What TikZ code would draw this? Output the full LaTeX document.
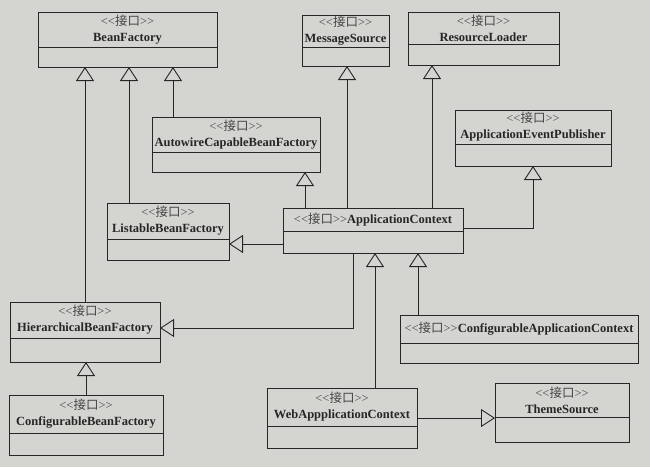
\documentclass[tikz,border=0pt]{standalone}
\usepackage{fontspec}
\setmainfont{Liberation Serif}
\newfontfamily\cjk{Noto Sans CJK SC}
\usetikzlibrary{arrows.meta,calc}

\definecolor{paper}{RGB}{212,212,209}
\definecolor{ink}{RGB}{38,38,38}
\definecolor{stereo}{RGB}{70,70,70}

% stereotype and class name (kerns keep << and >> from becoming guillemets)
\newcommand\stype{{\color{stereo}\fontsize{12.5}{16}\selectfont <\kern0pt<{\cjk 接口}>\kern0pt>}}
\newcommand\cname[1]{{\color{ink}\bfseries #1}}

\tikzset{
  classbox/.style={draw=ink, line width=0.9pt, rectangle, inner sep=0pt, outer sep=0pt},
  classlabel/.style={align=center, inner sep=0pt, font=\fontsize{12.5}{16}\selectfont},
  inh/.style={draw=ink, line width=0.9pt, -{Triangle[open, length=14pt, width=18pt]}},
}

% #1 name, #2 x1, #3 y1, #4 x2, #5 y2, #6 y of divider, #7 label
\newcommand\umlclass[7]{%
  \node[classbox, anchor=north west, minimum width={#4-#2}, minimum height={#5-#3}] (#1) at (#2,#3) {};
  \draw[draw=ink, line width=0.9pt] ($(#1.north west)+(0,#6-#3)$) -- ($(#1.north east)+(0,#6-#3)$);
  \node[classlabel] (#1-label) at ($(#1.north west)!0.5!(#1.north east)+(0,{(#6-#3)/2})$) {#7};
}

\begin{document}
\begin{tikzpicture}[x=1pt, y=-1pt]
  \fill[paper] (0,0) rectangle (650,467);
  \useasboundingbox (0,0) rectangle (650,467);

  % interfaces
  \umlclass{bf}{38}{12}{217}{67}{47}{\stype\\\cname{BeanFactory}}
  \umlclass{ms}{302}{15}{389}{66}{47}{\stype\\\cname{MessageSource}}
  \umlclass{rl}{408}{12}{559}{65}{44}{\stype\\\cname{ResourceLoader}}
  \umlclass{acbf}{152}{117}{320}{172}{152}{\stype\\\cname{AutowireCapableBeanFactory}}
  \umlclass{aep}{455}{110}{611}{166}{144}{\stype\\\cname{ApplicationEventPublisher}}
  \umlclass{lbf}{107}{203}{229}{260}{239}{\stype\\\cname{ListableBeanFactory}}
  \umlclass{ac}{283}{208}{463}{253}{231}{\stype\cname{ApplicationContext}}
  \umlclass{hbf}{10}{302}{160}{362}{338}{\stype\\\cname{HierarchicalBeanFactory}}
  \umlclass{cac}{400}{315}{638}{363}{343}{\stype\cname{ConfigurableApplicationContext}}
  \umlclass{cbf}{9}{395}{163}{455}{433}{\stype\\\cname{ConfigurableBeanFactory}}
  \umlclass{web}{267}{388}{417}{448}{426}{\stype\\\cname{WebAppplicationContext}}
  \umlclass{ts}{495}{383}{629}{442}{417}{\stype\\\cname{ThemeSource}}

  % attachment points on the box edges
  \coordinate (lbfT) at ($(lbf.north west)+(22,0)$);
  \coordinate (acbfT) at ($(acbf.north west)+(21,0)$);
  \coordinate (acT1) at ($(ac.north west)+(22,0)$);
  \coordinate (acT2) at ($(ac.north west)+(64,0)$);
  \coordinate (acT3) at ($(ac.north west)+(149,0)$);
  \coordinate (acR) at ($(ac.north east)+(0,20)$);
  \coordinate (acL) at ($(ac.north west)+(0,36)$);
  \coordinate (acB) at ($(ac.south west)+(70,0)$);
  \coordinate (hbfR) at ($(hbf.north east)+(0,26)$);
  \coordinate (webT) at ($(web.north west)+(108,0)$);
  \coordinate (cacT) at ($(cac.north west)+(18,0)$);

  % generalisations
  \draw[inh] (hbf.north) -- (hbf.north |- bf.south);
  \draw[inh] (lbfT) -- (lbfT |- bf.south);
  \draw[inh] (acbfT) -- (acbfT |- bf.south);
  \draw[inh] (acT1) -- (acT1 |- acbf.south);
  \draw[inh] (acT2) -- (acT2 |- ms.south);
  \draw[inh] (acT3) -- (acT3 |- rl.south);
  \draw[inh] (acR) -| (aep.south);
  \draw[inh] (acL) -- (acL -| lbf.east);
  \draw[inh] (acB) |- (hbfR);
  \draw[inh] (webT) -- (webT |- ac.south);
  \draw[inh] (cacT) -- (cacT |- ac.south);
  \draw[inh] (web.east) -- (web.east -| ts.west);
  \draw[inh] (cbf.north) -- (cbf.north |- hbf.south);
\end{tikzpicture}
\end{document}
